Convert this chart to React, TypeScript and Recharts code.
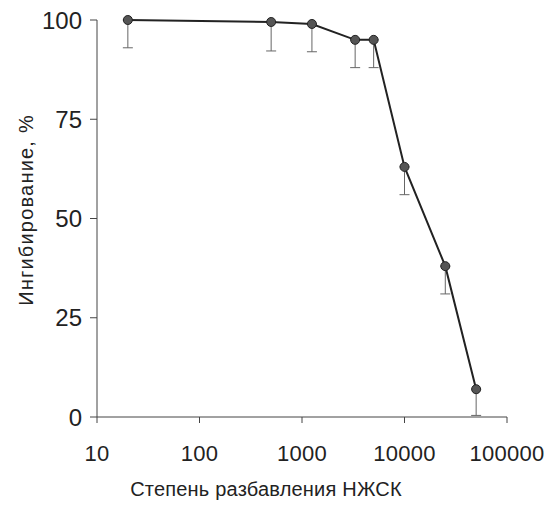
import { ErrorBar, Line, LineChart, XAxis, YAxis } from "recharts";

const dilution = [20, 500, 1250, 3300, 5000, 10000, 25000, 50000];
const inhibition = [100, 99.5, 99, 95, 95, 63, 38, 7];
const errDown = [7, 7.3, 7, 7, 7, 7, 7, 6.6];
const xTicks = [10, 100, 1000, 10000, 100000];
const yTicks = [0, 25, 50, 75, 100];

const data = dilution.map((d, i) => ({
  dilution: d,
  value: inhibition[i],
  err: [errDown[i], 0],
}));

const font = "'Liberation Sans', Arial, sans-serif";
const xTickStyle = { fontSize: 22, fill: "#222", fontFamily: font, letterSpacing: 0.3 };
const yTickStyle = { fontSize: 24, fill: "#222", fontFamily: font };

function YLabel() {
  return (
    <text
      x={33}
      y={210}
      transform="rotate(-90, 33, 210)"
      textAnchor="middle"
      fontSize={20}
      fontFamily={font}
      fill="#222"
      letterSpacing={1.2}
    >
      Ингибирование, %
    </text>
  );
}

export default function App() {
  return (
    <div style={{ position: "absolute", left: 0, top: 0, background: "#fff" }}>
      <LineChart width={552} height={519} data={data} margin={{ top: 20, right: 45, bottom: 0, left: 0 }}>
        <XAxis
          dataKey="dilution"
          type="number"
          scale="log"
          domain={[10, 100000]}
          ticks={xTicks}
          allowDataOverflow
          height={102}
          stroke="#444"
          tickSize={6}
          tickMargin={22}
          tick={xTickStyle}
          label={{
            value: "Степень разбавления НЖСК",
            position: "insideBottom",
            offset: 23,
            dx: -36,
            style: { fontSize: 20, fill: "#222", fontFamily: font, letterSpacing: 0.2 },
          }}
        />
        <YAxis
          type="number"
          domain={[0, 100]}
          ticks={yTicks}
          width={97}
          stroke="#444"
          tickSize={7}
          tickMargin={8}
          tick={yTickStyle}
          label={{ content: <YLabel /> }}
        />
        <Line
          dataKey="value"
          stroke="#222"
          strokeWidth={2}
          dot={{ r: 4.5, fill: "#555", stroke: "#222", strokeWidth: 1 }}
          isAnimationActive={false}
        >
          <ErrorBar dataKey="err" direction="y" width={5} stroke="#666" strokeWidth={1} />
        </Line>
      </LineChart>
    </div>
  );
}
